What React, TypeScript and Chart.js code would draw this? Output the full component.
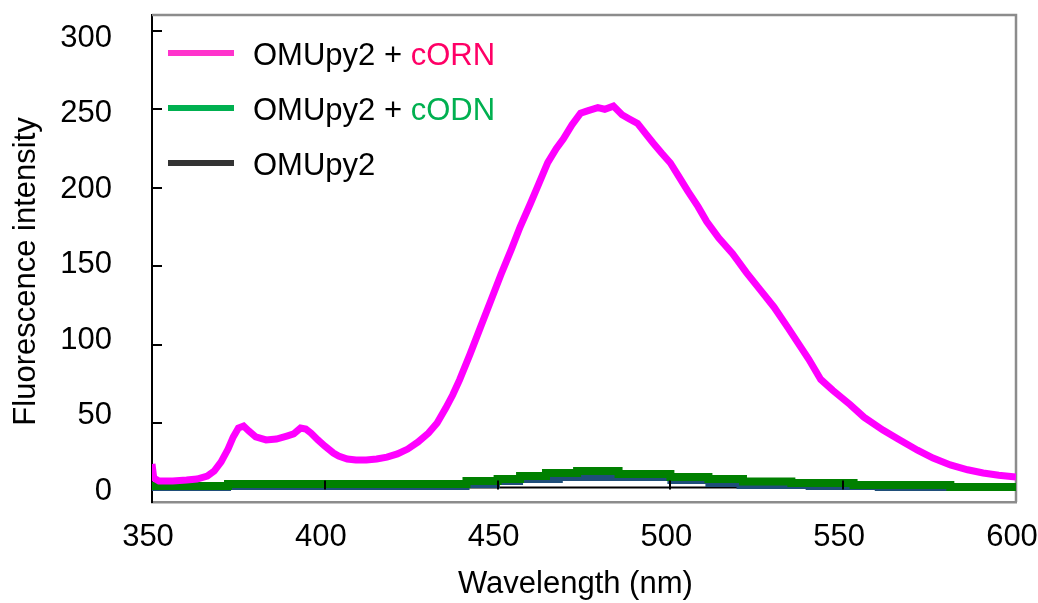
import React, { useEffect, useRef } from "react";
import { Chart, registerables } from "chart.js";

Chart.register(...registerables);

// ---------- data ----------
const WAVELENGTH_ORN = [
  350, 350.5, 352, 356, 360, 363, 366, 368, 370, 372, 373.5, 375, 376.5, 378, 380, 383, 386, 389, 391, 393,
  394.5, 396, 398, 400, 402.5, 404, 406.5, 409, 412, 415, 418, 421, 424, 427, 430, 432.5, 435, 437, 439, 442,
  445, 448, 451, 454, 456.5, 459.5, 462, 464.5, 467, 469, 471.5, 474, 476, 479, 481, 483.5, 486, 488, 490.5, 493,
  495, 497.5, 500, 502.5, 505, 508, 510.5, 514, 518, 522, 526, 530, 534, 537, 540, 543.5, 547, 552, 556, 561.5,
  566, 571.5, 576, 581, 586, 590.5, 595, 600,
];
const INTENSITY_ORN = [
  24.2, 15.3, 13.4, 13.4, 14.0, 14.6, 16.5, 19.7, 25.5, 33.7, 41.4, 47.1, 48.4, 45.2, 41.4, 39.5, 40.1, 42.0, 43.3, 47.1,
  46.5, 43.9, 39.5, 35.6, 31.2, 29.3, 27.4, 26.7, 26.7, 27.4, 28.6, 30.6, 33.7, 38.2, 43.9, 50.3, 59.8, 68.1, 77.7, 94,
  111, 128, 145, 161, 175, 190, 203, 216, 225, 231, 240, 247.5, 249, 251, 250, 252, 246.5, 244, 241, 234,
  228.5, 222, 215.8, 207, 198, 188, 178.5, 168, 158, 146, 135, 124, 111, 101, 91, 78, 71, 62, 54, 45.8,
  40, 33, 28, 23.6, 20.5, 18.5, 17, 15.9,
];

const WAVELENGTH_ODN = [350, 372, 441, 450, 456.5, 464, 473, 485, 500, 511, 521, 535, 553, 581, 600];
const INTENSITY_ODN = [10.2, 11.5, 13.4, 14.6, 16.5, 18.5, 19.7, 17.8, 15.9, 14.6, 13.0, 12.1, 10.8, 9.5, 9.5];

const WAVELENGTH_FREE = [350, 372, 441, 449.8, 456.5, 468, 500, 511, 520, 540, 560, 600];
const INTENSITY_FREE = [8.9, 9.5, 10.8, 12.7, 14.0, 15.3, 13.4, 11.5, 10.2, 9.5, 8.9, 8.9];

const X_TICKS = [350, 400, 450, 500, 550, 600];
const Y_TICKS = [0, 50, 100, 150, 200, 250, 300];
const X_MIN = 350;
const X_MAX = 600;
const Y_MIN = 0;
const Y_MAX = 310;
// the printed tick labels sit on a slightly different spacing than the tick marks
const Y_LABEL_MIN = -7.3;
const Y_LABEL_MAX = 315.2;
const AXIS_CROSS = 9.2;

const X_TITLE = "Wavelength (nm)";
const Y_TITLE = "Fluorescence intensity";

const LEGEND_ITEMS = [
  { base: "OMUpy2 + ", accent: "cORN", accentColor: "#FF0066", lineColor: "#FF33CC" },
  { base: "OMUpy2 + ", accent: "cODN", accentColor: "#00B050", lineColor: "#00B050" },
  { base: "OMUpy2", accent: "", accentColor: "#000000", lineColor: "#333333" },
];

const FONT_FAMILY = '"Liberation Sans", Arial, sans-serif';
const FONT_SIZE = 31;

const toPoints = (xs: number[], ys: number[]) => xs.map((x, i) => ({ x, y: ys[i] }));

const framePlugin = {
  id: "frameAndAxes",
  beforeDatasetsDraw(chart: any) {
    const { ctx, chartArea, scales } = chart;
    const { left, right, top, bottom } = chartArea;
    ctx.save();
    ctx.strokeStyle = "#8C8C8C";
    ctx.lineWidth = 2.5;
    ctx.beginPath();
    ctx.moveTo(left, top);
    ctx.lineTo(right, top);
    ctx.lineTo(right, bottom);
    ctx.stroke();
    const yc = scales.y.getPixelForValue(AXIS_CROSS);
    ctx.strokeStyle = "#000";
    ctx.lineWidth = 2;
    ctx.beginPath();
    ctx.moveTo(left, yc);
    ctx.lineTo(right, yc);
    ctx.stroke();
    ctx.restore();
  },
  afterDatasetsDraw(chart: any) {
    const { ctx, chartArea, scales } = chart;
    const { left } = chartArea;
    ctx.save();
    ctx.strokeStyle = "#000";
    ctx.lineWidth = 2;
    Y_TICKS.forEach((v) => {
      if (v === Y_MIN) return;
      const py = Math.round(scales.y.getPixelForValue(v));
      ctx.beginPath();
      ctx.moveTo(left, py);
      ctx.lineTo(left + 10, py);
      ctx.stroke();
    });
    const yc = scales.y.getPixelForValue(AXIS_CROSS);
    X_TICKS.forEach((v) => {
      if (v === X_MIN || v === X_MAX) return;
      const px = Math.round(scales.x.getPixelForValue(v));
      ctx.beginPath();
      ctx.moveTo(px, yc - 7);
      ctx.lineTo(px, yc + 2);
      ctx.stroke();
    });
    ctx.restore();
  },
  afterDraw(chart: any) {
    const { ctx, chartArea } = chart;
    const lx = chartArea.left + 16;
    const lineLen = 66;
    const textX = chartArea.left + 101;
    const firstBaseline = chartArea.top + 50;
    const step = 55;
    ctx.save();
    ctx.font = `${FONT_SIZE}px ${FONT_FAMILY}`;
    ctx.textBaseline = "alphabetic";
    ctx.textAlign = "left";
    LEGEND_ITEMS.forEach((item, i) => {
      const base = firstBaseline + i * step;
      const lineY = base - 12;
      ctx.strokeStyle = item.lineColor;
      ctx.lineWidth = 6;
      ctx.beginPath();
      ctx.moveTo(lx, lineY);
      ctx.lineTo(lx + lineLen, lineY);
      ctx.stroke();
      ctx.fillStyle = "#000";
      ctx.fillText(item.base, textX, base);
      if (item.accent) {
        const w = ctx.measureText(item.base).width;
        ctx.fillStyle = item.accentColor;
        ctx.fillText(item.accent, textX + w, base);
      }
    });
    ctx.restore();
  },
};

export default function App() {
  const canvasRef = useRef<HTMLCanvasElement | null>(null);

  useEffect(() => {
    if (!canvasRef.current) return;
    const font = { family: FONT_FAMILY, size: FONT_SIZE };
    const chart = new Chart(canvasRef.current, {
      type: "scatter",
      data: {
        datasets: [
          {
            label: "OMUpy2 + cORN",
            data: toPoints(WAVELENGTH_ORN, INTENSITY_ORN),
            showLine: true,
            borderColor: "#FF00FF",
            backgroundColor: "#FF00FF",
            borderWidth: 7,
            pointRadius: 0,
            tension: 0,
            yAxisID: "y",
          },
          {
            label: "OMUpy2 + cODN",
            data: toPoints(WAVELENGTH_ODN, INTENSITY_ODN),
            showLine: true,
            stepped: true,
            borderColor: "#008000",
            backgroundColor: "#008000",
            borderWidth: 8,
            pointRadius: 0,
            yAxisID: "y",
          },
          {
            label: "OMUpy2",
            data: toPoints(WAVELENGTH_FREE, INTENSITY_FREE),
            showLine: true,
            stepped: true,
            borderColor: "#1F4E79",
            backgroundColor: "#1F4E79",
            borderWidth: 6,
            pointRadius: 0,
            yAxisID: "y",
          },
        ],
      },
      options: {
        animation: false,
        responsive: false,
        maintainAspectRatio: false,
        layout: { padding: { top: 15, right: 22, left: 0, bottom: 0 } },
        plugins: {
          legend: { display: false },
          tooltip: { enabled: false },
        },
        scales: {
          x: {
            type: "linear",
            position: "bottom",
            min: X_MIN,
            max: X_MAX,
            grid: { display: false, drawTicks: false },
            border: { display: true, color: "#8C8C8C", width: 2.5 },
            ticks: {
              font,
              color: "#000",
              padding: 17,
              labelOffset: -4,
              maxRotation: 0,
              autoSkip: false,
              includeBounds: false,
            },
            afterBuildTicks: (scale: any) => {
              scale.ticks = X_TICKS.map((v) => ({ value: v }));
            },
            title: {
              display: true,
              text: X_TITLE + "  ",
              font,
              color: "#000",
              padding: { top: 0, bottom: 0 },
            },
            afterFit: (scale: any) => {
              scale.height = 101;
              scale.paddingLeft = 0;
              scale.paddingRight = 0;
            },
          },
          y: {
            type: "linear",
            position: "left",
            weight: 0,
            min: Y_MIN,
            max: Y_MAX,
            grid: { display: false, drawTicks: false },
            border: { display: true, color: "#000", width: 2 },
            ticks: { display: false },
            title: { display: false },
            afterFit: (scale: any) => {
              scale.width = 0;
              scale.paddingTop = 0;
              scale.paddingBottom = 0;
            },
          },
          yLabels: {
            type: "linear",
            position: "left",
            weight: 1,
            min: Y_LABEL_MIN,
            max: Y_LABEL_MAX,
            grid: { display: false, drawTicks: false },
            border: { display: false },
            ticks: {
              font,
              color: "#000",
              padding: 40,
              autoSkip: false,
              includeBounds: false,
            },
            afterBuildTicks: (scale: any) => {
              scale.ticks = Y_TICKS.map((v) => ({ value: v }));
            },
            title: {
              display: true,
              text: Y_TITLE + "   ",
              font,
              color: "#000",
              padding: { top: 8, bottom: 0 },
            },
            afterFit: (scale: any) => {
              scale.width = 152;
              scale.paddingTop = 0;
              scale.paddingBottom = 0;
            },
          },
        },
      },
      plugins: [framePlugin],
    } as any);
    return () => chart.destroy();
  }, []);

  return (
    <div style={{ position: "absolute", left: 0, top: 0, width: 1038, height: 603, background: "#fff" }}>
      <canvas ref={canvasRef} width={1038} height={603} style={{ display: "block", width: 1038, height: 603 }} />
    </div>
  );
}
